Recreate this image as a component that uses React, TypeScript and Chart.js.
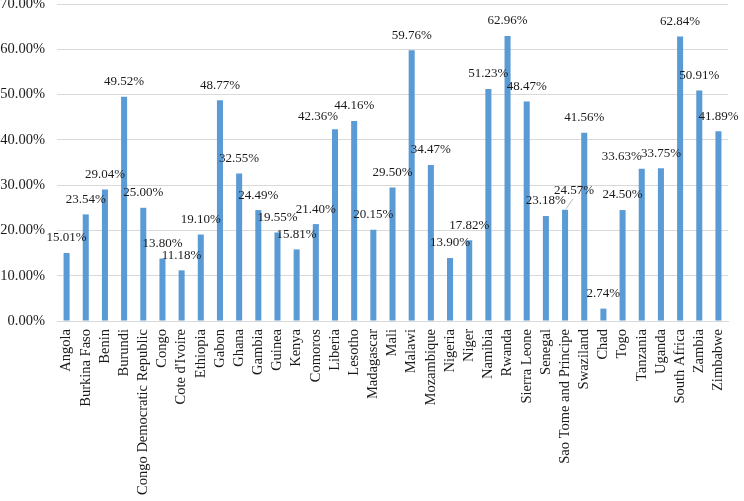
import React, { useEffect, useRef } from "react";
import { Chart, registerables } from "chart.js";

Chart.register(...registerables);

const countries = [
  "Angola", "Burkina Faso", "Benin", "Burundi", "Congo Democratic Republic", "Congo",
  "Cote d'Ivoire", "Ethiopia", "Gabon", "Ghana", "Gambia", "Guinea", "Kenya", "Comoros",
  "Liberia", "Lesotho", "Madagascar", "Mali", "Malawi", "Mozambique", "Nigeria", "Niger",
  "Namibia", "Rwanda", "Sierra Leone", "Senegal", "Sao Tome and Principe", "Swaziland",
  "Chad", "Togo", "Tanzania", "Uganda", "South Africa", "Zambia", "Zimbabwe",
];

const values = [
  15.01, 23.54, 29.04, 49.52, 25.0, 13.8, 11.18, 19.1, 48.77, 32.55, 24.49, 19.55, 15.81,
  21.4, 42.36, 44.16, 20.15, 29.5, 59.76, 34.47, 13.9, 17.82, 51.23, 62.96, 48.47, 23.18,
  24.57, 41.56, 2.74, 24.5, 33.63, 33.75, 62.84, 50.91, 41.89,
];

const yTicks = [0, 10, 20, 30, 40, 50, 60, 70];

const FONT = "'Liberation Serif', 'Times New Roman', serif";

// label nudges (styling only) for labels moved to avoid overlap, as in the original
const labelNudge: Record<string, [number, number, boolean]> = {
  Liberia: [-17, 2, false],
  "Sao Tome and Principe": [9, -4, true],
  Tanzania: [-20, 3, false],
};

const labelPlugin = {
  id: "barLabels",
  afterDatasetsDraw(chart: any) {
    const ctx = chart.ctx;
    const meta = chart.getDatasetMeta(0);
    ctx.save();
    ctx.font = `13px ${FONT}`;
    ctx.textAlign = "center";
    ctx.textBaseline = "middle";
    meta.data.forEach((bar: any, i: number) => {
      const n = labelNudge[countries[i]] || [0, 0, false];
      const lx = bar.x + n[0];
      const ly = bar.y - 15 + n[1];
      if (n[2]) {
        ctx.strokeStyle = "#a6a6a6";
        ctx.lineWidth = 0.8;
        ctx.beginPath();
        ctx.moveTo(lx - 1, ly + 8);
        ctx.lineTo(bar.x + 1, bar.y - 1);
        ctx.stroke();
      }
      ctx.fillStyle = "#1a1a1a";
      ctx.fillText(values[i].toFixed(2) + "%", lx, ly);
    });
    ctx.restore();
  },
};

export default function App() {
  const ref = useRef<HTMLCanvasElement>(null);
  useEffect(() => {
    const chart = new Chart(ref.current!, {
      type: "bar",
      data: {
        labels: countries,
        datasets: [
          {
            data: values,
            backgroundColor: "#5B9BD5",
            categoryPercentage: 0.9,
            barPercentage: 0.35,
          },
        ],
      },
      options: {
        animation: false,
        responsive: false,
        maintainAspectRatio: false,
        layout: { padding: { top: 4, right: 11, left: 0, bottom: 0 } },
        plugins: { legend: { display: false }, tooltip: { enabled: false } },
        scales: {
          x: {
            grid: { display: false, drawTicks: false },
            border: { display: true, color: "#d9d9d9", width: 1 },
            ticks: {
              autoSkip: false,
              maxRotation: 90,
              minRotation: 90,
              padding: 8,
              color: "#1a1a1a",
              font: { family: FONT, size: 14.5 },
            },
            afterFit(scale: any) {
              scale.height = 180;
            },
          },
          y: {
            min: 0,
            max: 70,
            afterBuildTicks(scale: any) {
              scale.ticks = yTicks.map((v) => ({ value: v }));
            },
            grid: { color: "#d9d9d9", drawTicks: false },
            border: { display: false },
            ticks: {
              padding: 12,
              color: "#1a1a1a",
              font: { family: FONT, size: 14.5 },
              callback: (v: any) => Number(v).toFixed(2) + "%",
            },
            afterFit(scale: any) {
              scale.width = 57;
              scale.paddingTop = 0;
              scale.paddingBottom = 0;
            },
          },
        },
      },
      plugins: [labelPlugin],
    });
    return () => chart.destroy();
  }, []);
  return (
    <div style={{ position: "absolute", left: 0, top: 0, width: 744, height: 501 }}>
      <canvas ref={ref} width={744} height={501} style={{ width: 744, height: 501 }} />
    </div>
  );
}
